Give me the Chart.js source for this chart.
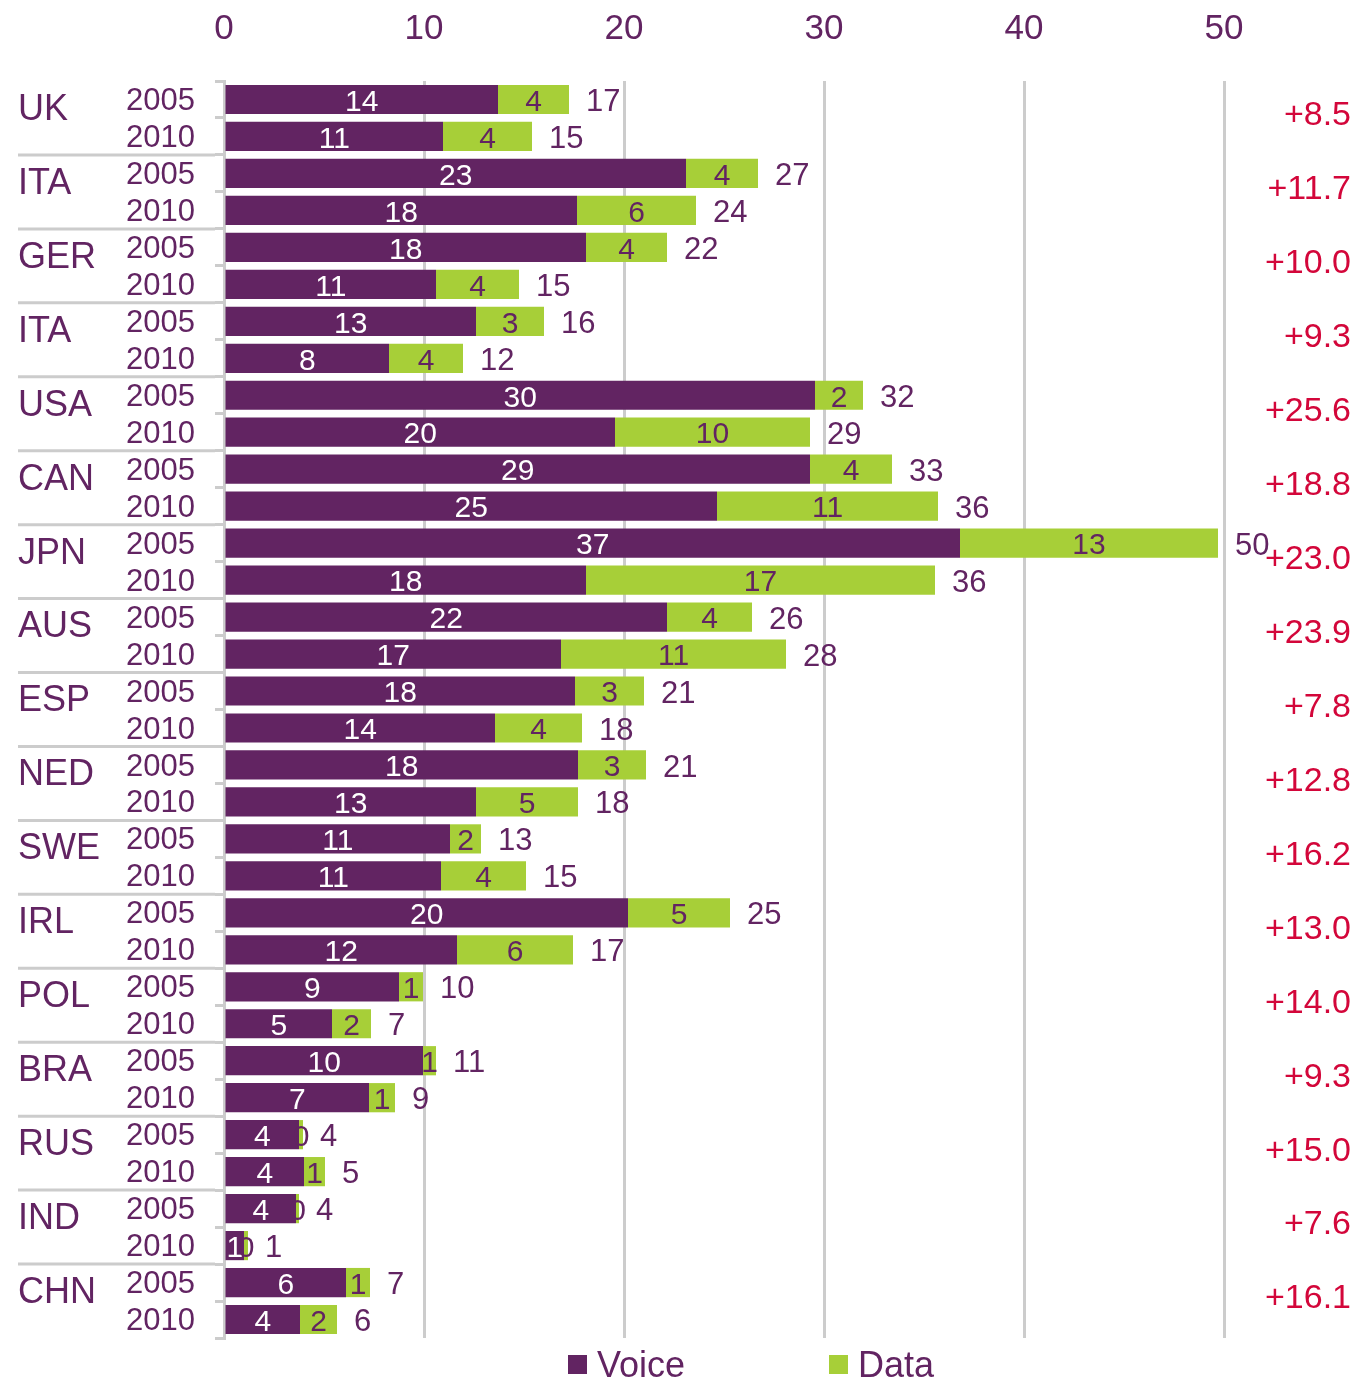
<!DOCTYPE html>
<html>
<head>
<meta charset="utf-8">
<script src="https://cdn.jsdelivr.net/npm/chart.js@4.4.1/dist/chart.umd.min.js"></script>
<style>
  html, body { margin: 0; padding: 0; background: #ffffff; }
  #wrap { width: 1355px; height: 1379px; }
</style>
</head>
<body>
<div id="wrap"><canvas id="chart" width="1355" height="1379"></canvas></div>
<script>
// --- data ---
const countries = ['UK', 'ITA', 'GER', 'ITA', 'USA', 'CAN', 'JPN', 'AUS', 'ESP', 'NED', 'SWE', 'IRL', 'POL', 'BRA', 'RUS', 'IND', 'CHN'];
const years = ['2005', '2010'];
// one value per row: country 2005, country 2010, ...
const voice = [13.7, 10.95, 23.1, 17.65, 18.1, 10.6, 12.6, 8.25, 29.55, 19.55, 29.3, 24.65, 36.8, 18.1, 22.15, 16.85,
               17.55, 13.55, 17.7, 12.6, 11.3, 10.85, 20.2, 11.65, 8.75, 5.4, 9.95, 7.25, 3.75, 4.0, 3.6, 1.0, 6.1, 3.8];
const data = [3.55, 4.45, 3.6, 5.95, 4.05, 4.15, 3.4, 3.7, 2.4, 9.75, 4.1, 11.05, 12.9, 17.45, 4.25, 11.25,
              3.45, 4.35, 3.4, 5.1, 1.55, 4.25, 5.1, 5.8, 1.2, 1.95, 0.65, 1.3, 0.2, 1.05, 0.15, 0.2, 1.2, 1.85];
const growth = ['+8.5', '+11.7', '+10.0', '+9.3', '+25.6', '+18.8', '+23.0', '+23.9', '+7.8', '+12.8', '+16.2', '+13.0', '+14.0', '+9.3', '+15.0', '+7.6', '+16.1'];
const xTicks = [0, 10, 20, 30, 40, 50];

const PURPLE = '#622462';
const GREEN = '#a7cf38';
const RED = '#d3063a';
const GRID = '#cccccc';
const FONT = '"Liberation Sans", Arial, sans-serif';

const rowLabels = countries.flatMap(() => years);

// labels, separators, country names and legend
const extrasPlugin = {
  id: 'extras',
  afterDraw(chart) {
    const ctx = chart.ctx;
    const area = chart.chartArea;
    const rowH = (area.bottom - area.top) / rowLabels.length;
    const vMeta = chart.getDatasetMeta(0);
    const dMeta = chart.getDatasetMeta(1);
    ctx.save();

    // group separators on the left
    ctx.strokeStyle = GRID;
    ctx.lineWidth = 3;
    for (let g = 1; g < countries.length; g++) {
      const y = area.top + g * 2 * rowH;
      ctx.beginPath();
      ctx.moveTo(18, y);
      ctx.lineTo(area.left - 9, y);
      ctx.stroke();
    }

    // country names and growth figures
    countries.forEach((c, g) => {
      const mid = area.top + (g * 2 + 1) * rowH;
      ctx.textBaseline = 'middle';
      ctx.font = '36px ' + FONT;
      ctx.fillStyle = PURPLE;
      ctx.textAlign = 'left';
      ctx.fillText(c, 18, mid - 8);
      ctx.font = '34px ' + FONT;
      ctx.fillStyle = RED;
      ctx.textAlign = 'right';
      ctx.fillText(growth[g], 1351, mid - 2);
    });

    // values on the bars
    rowLabels.forEach((_, i) => {
      const vb = vMeta.data[i];
      const db = dMeta.data[i];
      const y = vb.y + 3;
      ctx.textBaseline = 'middle';
      ctx.textAlign = 'center';
      ctx.font = '30px ' + FONT;
      ctx.fillStyle = '#ffffff';
      ctx.fillText(String(Math.round(voice[i])), (vb.x + vb.base) / 2, y);
      ctx.fillStyle = PURPLE;
      ctx.fillText(String(Math.round(data[i])), (db.x + db.base) / 2, y);
      ctx.textAlign = 'left';
      ctx.font = '31px ' + FONT;
      ctx.fillText(String(Math.round(voice[i] + data[i])), db.x + 17, y);
    });

    // legend
    const legY = 1365;
    chart.data.datasets.forEach((ds, k) => {
      const x0 = k === 0 ? 568 : 829;
      ctx.fillStyle = ds.backgroundColor;
      ctx.fillRect(x0, legY - 10, 19, 19);
      ctx.fillStyle = PURPLE;
      ctx.font = '36px ' + FONT;
      ctx.textAlign = 'left';
      ctx.textBaseline = 'middle';
      ctx.fillText(ds.label, x0 + 29, legY + 2);
    });

    ctx.restore();
  }
};

new Chart(document.getElementById('chart'), {
  type: 'bar',
  data: {
    labels: rowLabels,
    datasets: [
      { label: 'Voice', data: voice, backgroundColor: PURPLE, borderWidth: 0, barPercentage: 0.79, categoryPercentage: 1 },
      { label: 'Data', data: data, backgroundColor: GREEN, borderWidth: 0, barPercentage: 0.79, categoryPercentage: 1 }
    ]
  },
  options: {
    indexAxis: 'y',
    responsive: false,
    animation: false,
    layout: { padding: { left: 0, right: 131, top: 0, bottom: 41 } },
    scales: {
      x: {
        position: 'top',
        stacked: true,
        min: 0,
        max: 50,
        afterBuildTicks: scale => { scale.ticks = xTicks.map(v => ({ value: v })); },
        afterFit: scale => { scale.height = 81; },
        ticks: { color: PURPLE, font: { family: FONT, size: 35 }, padding: 31 },
        grid: { color: GRID, lineWidth: 3, drawTicks: false },
        border: { display: false }
      },
      y: {
        stacked: true,
        afterFit: scale => { scale.width = 224; },
        ticks: { color: PURPLE, font: { family: FONT, size: 31 }, padding: 20, autoSkip: false, labelOffset: 2 },
        grid: { color: GRID, lineWidth: 3, drawOnChartArea: false, tickLength: 9, offset: true },
        border: { display: true, color: GRID, width: 3 }
      }
    },
    plugins: {
      legend: { display: false },
      tooltip: { enabled: false }
    }
  },
  plugins: [extrasPlugin]
});
</script>
</body>
</html>
